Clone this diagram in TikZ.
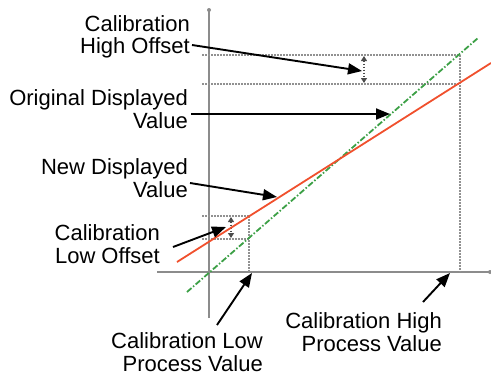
\documentclass[tikz,border=0pt]{standalone}
\usepackage{fontspec}
\setmainfont{Liberation Sans}
\usetikzlibrary{arrows.meta}
\definecolor{axisgray}{RGB}{140,140,140}
\definecolor{guidegray}{RGB}{145,145,145}
\definecolor{newred}{RGB}{240,80,45}
\definecolor{origgreen}{RGB}{60,160,70}
\begin{document}
\begin{tikzpicture}[x=1pt,y=-1pt,
  lbl/.style={align=right, anchor=east, inner sep=0pt, font=\fontsize{22}{22.5}\selectfont},
  callout/.style={-{Triangle[length=14pt,width=11pt]}, line width=1.9pt, black},
  axisline/.style={draw=axisgray, line width=1.8pt},
  guide/.style={draw=guidegray, line width=1.7pt, dash pattern=on 1.5pt off 1.5pt},
  dimarrow/.style={{Triangle[length=5pt,width=6pt]}-{Triangle[length=5pt,width=6pt]}, draw=gray!60!black, line width=1.1pt, dash pattern=on 1.5pt off 1.5pt},
  newline/.style={draw=newred, line width=1.8pt},
  origline/.style={draw=origgreen, line width=1.8pt, dash pattern=on 6pt off 2pt on 1.5pt off 2pt},
  endmark/.style={circle, fill=axisgray, inner sep=0pt, minimum size=4pt}
]
\useasboundingbox (0,0) rectangle (491,375);
% axes
\node[endmark] (ytop) at (209,10) {};
\coordinate (ybot) at (209,318);
\coordinate (xleft) at (157,272);
\node[endmark] (xright) at (490,272) {};
\draw[axisline] (ybot) -- (ytop.center);
\draw[axisline] (xleft) -- (xright.center);
% guide lines
\coordinate (hh1a) at (202,55); \coordinate (hh1b) at (460,55);
\coordinate (hh2a) at (202,84); \coordinate (hh2b) at (460,84);
\coordinate (hv) at (460,272);
\draw[guide] (hh1a) -- (hh1b);
\draw[guide] (hh2a) -- (hh2b);
\draw[guide] (hh1b) -- (hv);
\coordinate (lh1a) at (202,216); \coordinate (lh1b) at (249,216);
\coordinate (lh2a) at (202,239); \coordinate (lh2b) at (249,239);
\coordinate (lv) at (249,272);
\draw[guide] (lh1a) -- (lh1b);
\draw[guide] (lh2a) -- (lh2b);
\draw[guide] (lh1b) -- (lv);
% offset dimension arrows
\coordinate (hd1) at (364,56); \coordinate (hd2) at (364,83);
\draw[dimarrow] (hd1) -- (hd2);
\coordinate (ld1) at (231,217); \coordinate (ld2) at (231,238);
\draw[dimarrow] (ld1) -- (ld2);
% value lines
\coordinate (g1) at (187,292); \coordinate (g2) at (478,38);
\draw[origline] (g1) -- (g2);
\coordinate (r1) at (177,262); \coordinate (r2) at (491,63);
\draw[newline] (r1) -- (r2);
% labels
\node[lbl] (cho) at (190,37) {Calibration\\High Offset};
\node[lbl] (odv) at (188,109) {Original Displayed\\Value};
\node[lbl] (ndv) at (188,178) {New Displayed\\Value};
\node[lbl] (clo) at (160,244) {Calibration\\Low Offset};
\node[lbl] (clpv) at (263,352) {Calibration Low\\Process Value};
\node[lbl] (chpv) at (442,332) {Calibration High\\Process Value};
% callouts
\coordinate (choS) at (192,45); \coordinate (choT) at (362,71);
\coordinate (odvS) at (191,114); \coordinate (odvT) at (390,114);
\coordinate (ndvS) at (190,183); \coordinate (ndvT) at (277,197);
\coordinate (cloS) at (173,247); \coordinate (cloT) at (226,227);
\coordinate (clpvS) at (217,325); \coordinate (clpvT) at (252,273);
\coordinate (chpvS) at (423,302); \coordinate (chpvT) at (450,273);
\draw[callout] (choS) -- (choT);
\draw[callout] (odvS) -- (odvT);
\draw[callout] (ndvS) -- (ndvT);
\draw[callout] (cloS) -- (cloT);
\draw[callout] (clpvS) -- (clpvT);
\draw[callout] (chpvS) -- (chpvT);
\end{tikzpicture}
\end{document}
